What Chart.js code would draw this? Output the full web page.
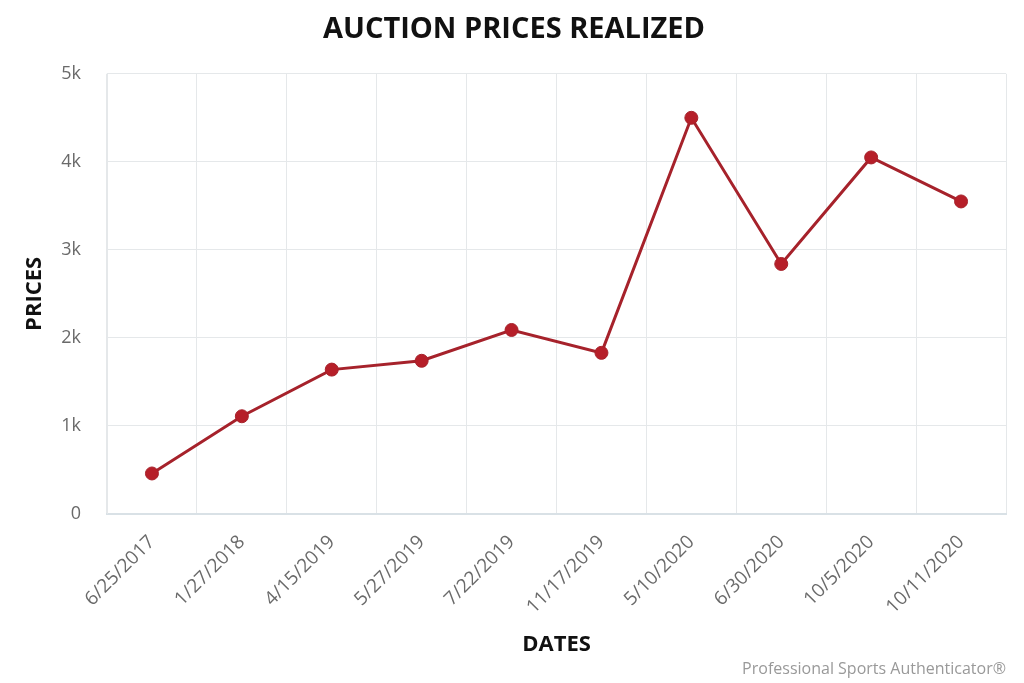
<!DOCTYPE html>
<html>
<head>
<meta charset="utf-8">
<script src="https://cdn.jsdelivr.net/npm/chart.js@4"></script>
<style>
  html, body { margin: 0; padding: 0; background: #fff; }
  #wrap { width: 1024px; height: 683px; }
</style>
</head>
<body>
<div id="wrap"><canvas id="chart"></canvas></div>
<script>
  // ── Data ──
  const dates = ['6/25/2017', '1/27/2018', '4/15/2019', '5/27/2019', '7/22/2019',
                 '11/17/2019', '5/10/2020', '6/30/2020', '10/5/2020', '10/11/2020'];
  const prices = [460, 1110, 1640, 1740, 2090, 1830, 4500, 2840, 4050, 3550];
  const yTicks = [0, 1000, 2000, 3000, 4000, 5000];

  const GRID = '#e5e8ea';
  const TICK = '#6a6a6a';
  const INK = '#111111';
  const SANS = "'Open Sans', sans-serif";

  new Chart(document.getElementById('chart'), {
    type: 'line',
    data: {
      labels: dates,
      datasets: [{
        label: 'Price',
        data: prices,
        borderColor: '#a6222b',
        backgroundColor: '#b61f29',
        borderWidth: 3,
        pointRadius: 6.5,
        pointBackgroundColor: '#b61f29',
        pointBorderColor: '#a6222b',
        pointBorderWidth: 1,
        tension: 0
      }]
    },
    options: {
      responsive: true,
      maintainAspectRatio: false,
      animation: false,
      layout: { padding: { left: 22, right: 18, top: 0, bottom: 0 } },
      scales: {
        x: {
          offset: true,
          grid: { offset: true, color: GRID, lineWidth: 1, drawTicks: false },
          border: { color: '#d9e1e6', width: 2 },
          ticks: {
            maxRotation: 45,
            minRotation: 45,
            padding: 17,
            color: TICK,
            font: { family: SANS, size: 19 }
          },
          title: {
            display: true,
            text: 'DATES',
            color: INK,
            padding: { top: -4, bottom: 2 },
            font: { family: SANS, size: 22, weight: 'bold' }
          }
        },
        y: {
          min: 0,
          max: 5000,
          afterBuildTicks: scale => { scale.ticks = yTicks.map(v => ({ value: v })); },
          // fixed axis width (Chart.js reserves the tick padding twice)
          afterFit: scale => { scale.width = 85; },
          grid: { color: GRID, lineWidth: 1, drawTicks: false },
          border: { color: GRID, width: 1 },
          ticks: {
            padding: 26,
            color: TICK,
            font: { family: SANS, size: 18 },
            callback: v => v === 0 ? '0' : (v / 1000) + 'k'
          },
          title: {
            display: true,
            text: 'PRICES',
            color: INK,
            padding: 0,
            font: { family: SANS, size: 22, weight: 'bold' }
          }
        }
      },
      plugins: {
        legend: { display: false },
        tooltip: { enabled: false },
        title: {
          display: true,
          text: 'AUCTION PRICES REALIZED',
          color: INK,
          padding: { top: 12, bottom: 27 },
          font: { family: SANS, size: 29, weight: 'bold' }
        },
        subtitle: {
          display: true,
          position: 'bottom',
          align: 'end',
          text: 'Professional Sports Authenticator®',
          color: '#999999',
          padding: { top: 0, bottom: 4 },
          font: { family: SANS, size: 16 }
        }
      }
    }
  });
</script>
</body>
</html>
